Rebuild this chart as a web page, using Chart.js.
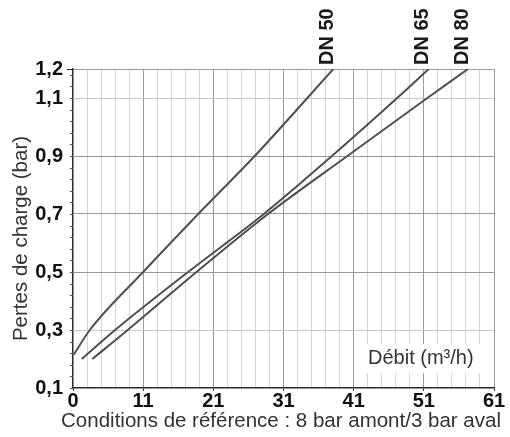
<!DOCTYPE html>
<html><head><meta charset="utf-8">
<script src="https://cdn.jsdelivr.net/npm/chart.js@4/dist/chart.umd.min.js"></script>
<style>html,body{margin:0;padding:0;background:#fff}#wrap{width:510px;height:437px;position:relative}</style>
</head><body><div id="wrap"><canvas id="c" width="510" height="437"></canvas></div>
<script>
const seriesNames = ['DN 50', 'DN 65', 'DN 80'];
const dn50Flow = [1.1, 3.4, 11, 18.85, 26.9, 34.4, 38.1];
const dn50Loss = [0.215, 0.3, 0.5, 0.7, 0.9, 1.1, 1.2];
const dn65Flow = [2.24, 7.0, 17.4, 28.2, 37.9, 47.2, 51.7];
const dn65Loss = [0.2, 0.3, 0.5, 0.7, 0.9, 1.1, 1.2];
const dn80Flow = [3.75, 8.8, 18.6, 28.8, 40.1, 51.5, 57.3];
const dn80Loss = [0.2, 0.3, 0.5, 0.7, 0.9, 1.1, 1.2];
const xTickValues = [1, 11, 21, 31, 41, 51, 61];
const xTickLabels = ['0', '11', '21', '31', '41', '51', '61'];
const yTickValues = [0.1, 0.3, 0.5, 0.7, 0.9, 1.1, 1.2];
const yTickLabels = ['0,1', '0,3', '0,5', '0,7', '0,9', '1,1', '1,2'];
const xTitle = 'Conditions de référence : 8 bar amont/3 bar aval';
const yTitle = 'Pertes de charge (bar)';
const unitLabel = 'Débit (m³/h)';

const FONT = '"Liberation Sans", Arial, Helvetica, sans-serif';
const toPts = (xs, ys) => xs.map((x, i) => ({x: x, y: ys[i]}));
const lineStyle = {borderColor: '#4f4f4f', borderWidth: 2, pointRadius: 0, fill: false, cubicInterpolationMode: 'monotone'};
const T = 'rgba(0,0,0,0)';
const k10 = v => Math.round(v * 10);

const decor = {
  id: 'decor',
  beforeDatasetsDraw(chart) {
    const {ctx, chartArea: a} = chart;
    ctx.save();
    ctx.fillStyle = '#fff';
    ctx.fillRect(a.right - 136, a.bottom - 44, 124, 29);
    ctx.fillStyle = '#333';
    ctx.font = '20px ' + FONT;
    ctx.textAlign = 'left';
    ctx.textBaseline = 'middle';
    ctx.fillText(unitLabel, a.right - 126, a.bottom - 30);
    ctx.restore();
  },
  afterDatasetsDraw(chart) {
    const {ctx, chartArea: a} = chart;
    const xs = chart.scales.x, ys = chart.scales.y;
    ctx.save();
    // minor tick marks on the y axis
    ctx.strokeStyle = '#555';
    ctx.lineWidth = 1;
    for (let k = 0; k < 28; k++) {
      const v = 0.1 + 0.04 * k;
      const py = Math.round(ys.getPixelForValue(v)) + 0.5;
      ctx.beginPath();
      ctx.moveTo(a.left - 3, py);
      ctx.lineTo(a.left, py);
      ctx.stroke();
    }
    // series labels
    ctx.fillStyle = '#1a1a1a';
    ctx.font = 'bold 20px ' + FONT;
    ctx.textAlign = 'left';
    ctx.textBaseline = 'alphabetic';
    chart.data.datasets.forEach(ds => {
      const last = ds.data[ds.data.length - 1];
      const px = xs.getPixelForValue(last.x);
      ctx.save();
      ctx.translate(px - 0.5, a.top - 4);
      ctx.rotate(-Math.PI / 2);
      ctx.fillText(ds.label, 0, 0);
      ctx.restore();
    });
    // x title
    ctx.fillStyle = '#333';
    ctx.font = '20.5px ' + FONT;
    ctx.textAlign = 'center';
    ctx.textBaseline = 'middle';
    ctx.fillText(xTitle, (a.left + a.right) / 2 - 2.5, a.bottom + 33);
    // y title
    ctx.translate(21.5, (a.top + a.bottom) / 2 + 10);
    ctx.rotate(-Math.PI / 2);
    ctx.fillText(yTitle, 0, 0);
    ctx.restore();
  }
};

new Chart(document.getElementById('c'), {
  type: 'line',
  data: {
    datasets: [
      Object.assign({label: seriesNames[0], data: toPts(dn50Flow, dn50Loss)}, lineStyle),
      Object.assign({label: seriesNames[1], data: toPts(dn65Flow, dn65Loss)}, lineStyle),
      Object.assign({label: seriesNames[2], data: toPts(dn80Flow, dn80Loss)}, lineStyle)
    ]
  },
  options: {
    responsive: false,
    animation: false,
    devicePixelRatio: 1,
    layout: {padding: {top: 69, right: 16, left: 0, bottom: 0}},
    plugins: {legend: {display: false}, tooltip: {enabled: false}},
    scales: {
      x: {
        type: 'linear', min: 1, max: 61,
        ticks: {
          stepSize: 2, autoSkip: false, maxRotation: 0, padding: 0, color: '#111',
          font: {family: FONT, size: 20, weight: 'bold', lineHeight: 1},
          callback: v => { const i = xTickValues.indexOf(Math.round(v)); return i >= 0 ? xTickLabels[i] : ''; }
        },
        grid: {
          lineWidth: 1, tickLength: 3,
          color: c => { const v = Math.round(c.tick.value); if (v === 1) return T; return xTickValues.includes(v) ? '#9a9a9a' : '#d4d4d4'; },
          tickColor: c => xTickValues.includes(Math.round(c.tick.value)) ? '#333' : T
        },
        border: {color: '#2a2a2a', width: 1.5},
        title: {display: false, text: xTitle},
        afterFit(s) { s.height = 49; }
      },
      y: {
        type: 'linear', min: 0.1, max: 1.2,
        ticks: {
          stepSize: 0.1, autoSkip: false, padding: 4, color: '#111',
          font: {family: FONT, size: 20, weight: 'bold', lineHeight: 1},
          callback: v => { const i = yTickValues.findIndex(t => k10(t) === k10(v)); return i >= 0 ? yTickLabels[i] : ''; }
        },
        grid: {
          lineWidth: 1, tickLength: 6,
          color: c => { const k = k10(c.tick.value); if (k === 3 || k === 11) return '#c8c8c8'; if (k === 5 || k === 7 || k === 9 || k === 12) return '#9a9a9a'; return T; },
          tickColor: c => k10(c.tick.value) === 12 ? '#222' : T
        },
        border: {color: '#2a2a2a', width: 1.5},
        title: {display: false, text: yTitle},
        afterFit(s) { s.width = 73; }
      }
    }
  },
  plugins: [decor]
});
</script></body></html>
